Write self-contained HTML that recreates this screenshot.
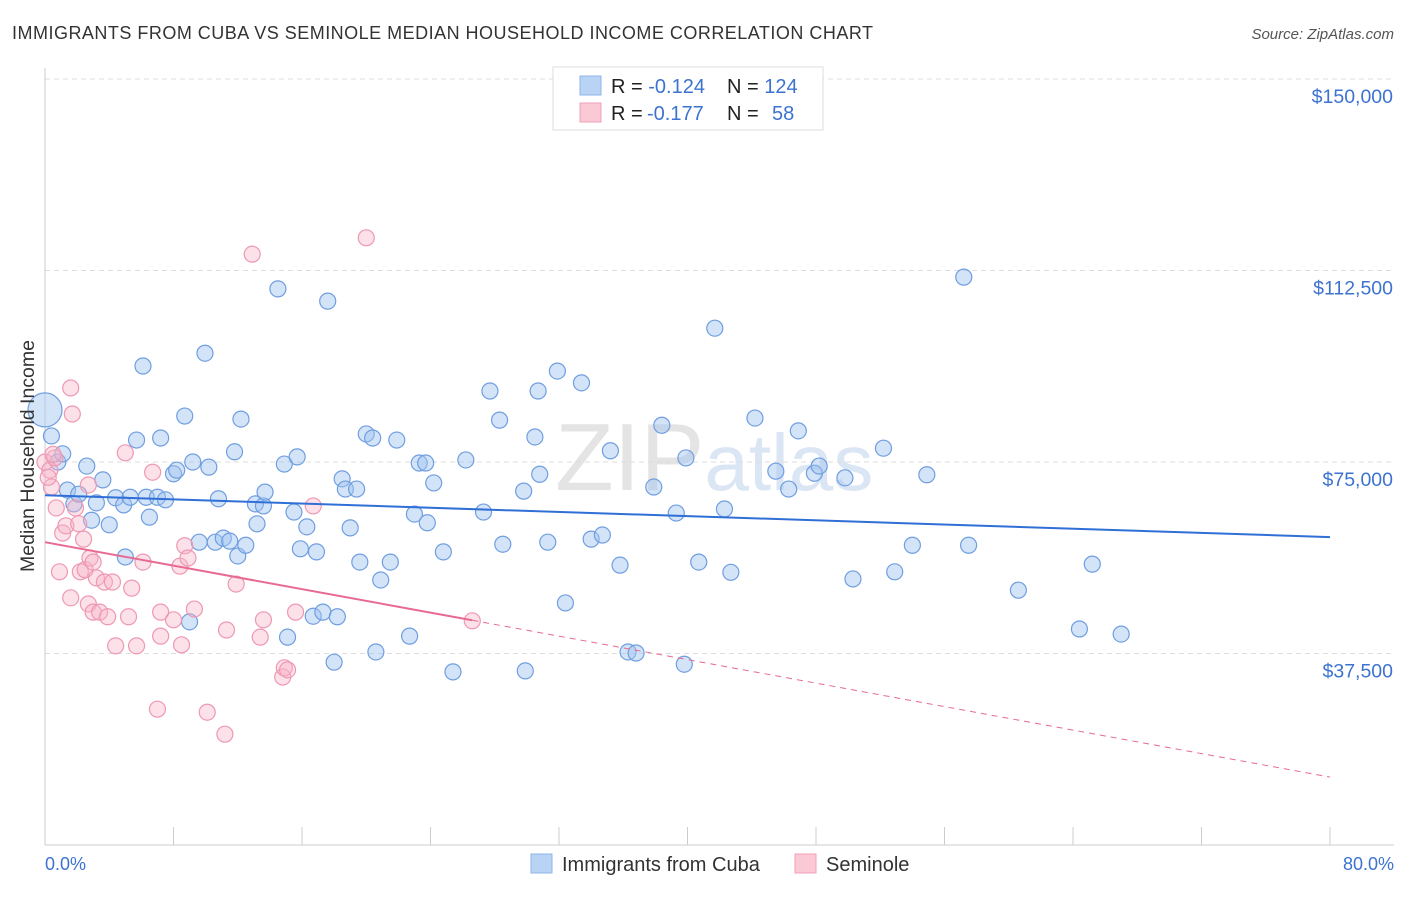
<!DOCTYPE html>
<html><head><meta charset="utf-8"><style>
body{margin:0;background:#fff;font-family:"Liberation Sans",sans-serif;}
svg text{font-family:"Liberation Sans",sans-serif;white-space:pre;}
</style></head><body>
<svg id="chart" width="1406" height="892" xml:space="preserve">
<text x="12" y="39" font-size="18" textLength="861" fill="#333">IMMIGRANTS FROM CUBA VS SEMINOLE MEDIAN HOUSEHOLD INCOME CORRELATION CHART</text>
<text x="1394" y="39" font-size="15" fill="#555" font-style="italic" text-anchor="end">Source: ZipAtlas.com</text>
<text x="555" y="490" font-size="96" fill="#e4e4e4" font-family="Liberation Serif">ZIP<tspan fill="#dbe6f4" font-family="Liberation Sans" font-size="80">atlas</tspan></text>
<g id="grid"></g><g id="marks"></g>
<text x="34" y="456" font-size="19.5" fill="#333" transform="rotate(-90 34 456)" text-anchor="middle">Median Household Income</text>
<text x="45" y="870" font-size="18" fill="#3d73d0">0.0%</text>
<text x="1394" y="870" font-size="18" fill="#3d73d0" text-anchor="end">80.0%</text>
<g>
<rect x="553" y="67" width="270" height="63" fill="#fff" stroke="#ddd"/>
<rect x="580" y="76" width="21" height="19" fill="#b9d3f5" stroke="#8fb3e8"/>
<rect x="580" y="103" width="21" height="19" fill="#fbc8d6" stroke="#f0a0b8"/>
<text x="611" y="93" font-size="20" fill="#222">R = <tspan fill="#3d73d0">-0.124</tspan></text>
<text x="727" y="93" font-size="20" fill="#222">N = <tspan fill="#3d73d0">124</tspan></text>
<text x="611" y="120" font-size="20" fill="#222">R = </text>
<text x="647" y="120" font-size="20" fill="#3d73d0">-0.177</text>
<text x="727" y="120" font-size="20" fill="#222">N = </text>
<text x="772" y="120" font-size="20" fill="#3d73d0">58</text>
</g>
<g>
<rect x="531" y="854" width="21" height="19" fill="#b9d3f5" stroke="#8fb3e8"/>
<text x="562" y="871" font-size="20" fill="#333">Immigrants from Cuba</text>
<rect x="795" y="854" width="21" height="19" fill="#fbc8d6" stroke="#f0a0b8"/>
<text x="826" y="871" font-size="20" fill="#333">Seminole</text>
</g>
</svg>
<script>
const yTicks=[37.5,75,112.5,150];
const yTickLabels=["$37,500","$75,000","$112,500","$150,000"];
const xTicks=[0,8,16,24,32,40,48,56,64,72,80];
const cubaX=[0,0.4,0.8,1.1,1.4,1.8,2.1,2.6,2.9,3.2,3.6,4.0,4.4,4.9,5.0,5.3,5.7,6.1,6.5,6.3,7.0,7.2,7.5,8.0,8.2,8.7,9.0,9.2,9.6,9.96,10.2,10.6,10.8,11.1,11.5,11.8,12.0,12.2,12.5,13.2,13.1,13.6,13.7,14.5,14.9,15.1,15.5,15.7,15.9,16.3,16.7,16.9,17.3,17.6,18.0,18.2,18.5,18.7,19.0,19.4,19.6,20.0,20.4,20.6,20.9,21.5,21.9,22.7,23.0,23.3,23.7,23.8,24.2,24.8,25.4,26.2,27.3,27.7,28.3,28.5,29.8,29.9,30.5,30.7,30.8,31.3,31.9,32.4,33.4,34.0,34.7,35.2,35.8,36.3,36.8,37.9,38.4,39.3,39.8,39.9,40.7,41.7,42.3,42.7,44.2,45.5,46.3,46.9,47.9,48.2,49.8,50.3,52.2,52.9,54.0,54.9,57.2,57.5,60.6,64.4,65.2,67.0];
const cubaY=[85.2,80.1,75.0,76.6,69.5,66.8,68.7,74.2,63.6,67.0,71.5,62.7,68.0,66.6,56.4,68.1,79.3,93.8,64.2,68.1,68.1,79.7,67.6,72.7,73.4,84.0,43.7,75.0,59.3,96.3,74.0,59.3,67.8,60.1,59.5,77.0,56.6,83.4,58.7,62.9,66.8,66.4,69.1,108.9,74.6,40.7,65.2,76.0,58.0,62.3,44.8,57.4,45.6,106.5,35.8,44.7,71.7,69.7,62.1,69.7,55.4,80.5,79.7,37.8,51.9,55.4,79.3,40.9,64.8,74.8,74.8,63.1,70.9,57.4,33.9,75.4,65.2,88.9,83.2,58.9,69.3,34.1,79.9,88.9,72.6,59.3,92.8,47.4,90.5,59.9,60.7,77.2,54.8,37.8,37.6,70.1,82.2,65.0,35.4,75.8,55.4,101.2,65.8,53.4,83.6,73.2,69.7,81.1,72.8,74.2,71.9,52.1,77.7,53.5,58.7,72.5,111.2,58.7,49.9,42.3,55.0,41.3];
const semX=[0,0.3,0.4,0.6,0.7,0.9,1.1,1.3,1.6,1.6,1.7,1.9,2.1,2.2,2.4,2.5,2.7,2.7,2.8,3.0,3.0,3.2,3.4,3.7,3.9,4.2,4.4,5.0,5.2,5.4,5.7,6.1,6.7,7.0,7.2,7.2,8.0,8.4,8.5,8.7,8.9,9.3,10.1,11.2,11.3,11.9,12.9,13.4,13.6,14.8,14.9,15.1,15.6,16.7,20.0,26.6,0.2,0.5];
const semY=[75.0,73.4,70.1,75.8,66.0,53.5,61.1,62.5,48.4,89.5,84.4,66.0,62.9,53.5,59.9,53.9,70.5,47.2,56.2,55.4,45.6,52.3,45.6,51.5,44.7,51.5,39.0,76.8,44.7,50.3,39.0,55.4,73.0,26.6,45.6,40.9,44.1,54.6,39.2,58.6,56.2,46.2,26.0,21.7,42.1,51.1,115.7,40.7,44.1,32.9,34.7,34.3,45.6,66.4,118.9,43.9,72.0,76.5];
const cubaTrend=[68.5,60.3];
const semTrend=[59.3,13.3];
const semSolidEnd=26.6;
const NS="http://www.w3.org/2000/svg";
const X=v=>45+v/80*1285, Y=v=>79+(150-v)/37.5*191.5;
function mk(t,a,p){const e=document.createElementNS(NS,t);for(const k in a)e.setAttribute(k,a[k]);p.appendChild(e);return e;}
const grid=document.getElementById('grid'),marks=document.getElementById('marks');
yTicks.forEach((t,i)=>{
 const l=mk('line',{x1:45,x2:1394,y1:Y(t),y2:Y(t),stroke:'#ddd','stroke-dasharray':'5,4'},grid);
 
 
 const tx=mk('text',{x:1393,y:Y(t)+24,'font-size':19.5,fill:'#3d73d0','text-anchor':'end'},grid);
 tx.textContent=yTickLabels[i];
 
 
});
const ax=mk('line',{x1:45,x2:1394,y1:845,y2:845,stroke:'#ccc'},grid);


const ay=mk('line',{x1:45,x2:45,y1:68,y2:845,stroke:'#ccc'},grid);


xTicks.forEach(t=>{const l=mk('line',{x1:X(t),x2:X(t),y1:827,y2:845,stroke:'#ccc'},grid);
 
 });
cubaX.forEach((x,i)=>{const c=mk('circle',{cx:X(x),cy:Y(cubaY[i]),r:i==0?17:8,fill:'rgba(160,196,240,0.45)',stroke:'#6f9ee0','stroke-width':1.2},marks);
 
 });
semX.forEach((x,i)=>{const c=mk('circle',{cx:X(x),cy:Y(semY[i]),r:8,fill:'rgba(248,180,200,0.4)',stroke:'#ee98b4','stroke-width':1.2},marks);
 
 });
const bt=mk('line',{x1:X(0),y1:Y(cubaTrend[0]),x2:X(80),y2:Y(cubaTrend[1]),stroke:'#2f6fd6','stroke-width':2},marks);


const sm=semTrend[0]+(semTrend[1]-semTrend[0])*semSolidEnd/80;
const pt=mk('line',{x1:X(0),y1:Y(semTrend[0]),x2:X(semSolidEnd),y2:Y(sm),stroke:'#e86a92','stroke-width':2},marks);


const pd=mk('line',{x1:X(semSolidEnd),y1:Y(sm),x2:X(80),y2:Y(semTrend[1]),stroke:'#e86a92','stroke-width':1,'stroke-dasharray':'6,5'},marks);


</script>
</body></html>
